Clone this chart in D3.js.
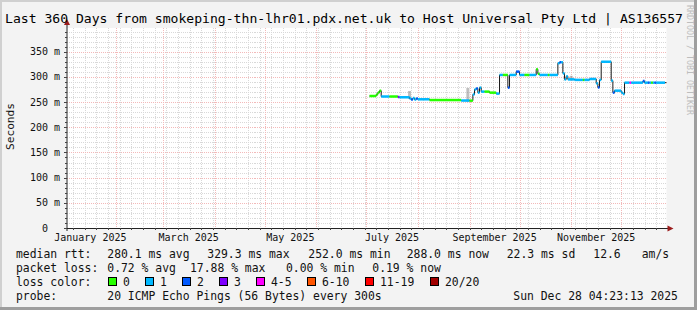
<!DOCTYPE html>
<html>
<head>
<meta charset="utf-8">
<script src="https://cdn.jsdelivr.net/npm/d3@7"></script>
<style>
  html, body { margin: 0; padding: 0; background: #f3f3f3; }
  svg { display: block; font-family: "DejaVu Sans Mono", monospace; }
  text { white-space: pre; }
</style>
</head>
<body>
<svg id="chart" width="697" height="310"></svg>
<script>
// chart values
const title = 'Last 360 Days from smokeping-thn-lhr01.pdx.net.uk to Host Universal Pty Ltd | AS136557';
const yLabel = 'Seconds';
const watermark = 'RRDTOOL / TOBI OETIKER';
const endTime = new Date(2025, 11, 28, 4, 23, 13);
const spanDays = 360;
const yMax = 397;
const yTicks = [0, 50, 100, 150, 200, 250, 300, 350];
const monthLabels = ['January 2025', 'March 2025', 'May 2025', 'July 2025', 'September 2025', 'November 2025'];

const lossColors = ['#26ff00', '#00b8ff', '#0059ff', '#7e00ff', '#ff00ff', '#ff5500', '#ff0000', '#a10000'];
const lossLabels = ['0', '1', '2', '3', '4-5', '6-10', '11-19', '20/20'];

// [day, median rtt (ms), loss class]
const medianSeries = [
  ['2025-07-03', 262, 0], ['2025-07-07', 265, 0], ['2025-07-08', 269, 0], ['2025-07-09', 272.5, 0],
  ['2025-07-10', 261, 1], ['2025-07-15', 261, 0], ['2025-07-20', 260, 3], ['2025-07-21', 259.5, 1],
  ['2025-07-27', 257, 1], ['2025-07-28', 255, 2], ['2025-07-29', 258, 1], ['2025-07-30', 255, 1],
  ['2025-07-31', 257, 2], ['2025-08-01', 255.5, 1], ['2025-08-08', 254, 0], ['2025-08-27', 253, 1],
  ['2025-09-01', 252.8, 0], ['2025-09-03', 265, 1], ['2025-09-04', 275, 1], ['2025-09-05', 277, 2],
  ['2025-09-06', 268.7, 1], ['2025-09-07', 278.6, 1], ['2025-09-08', 270.7, 1], ['2025-09-10', 270.7, 0],
  ['2025-09-13', 268.7, 0], ['2025-09-17', 266.7, 1], ['2025-09-19', 303.8, 1], ['2025-09-21', 303.8, 0],
  ['2025-09-24', 278.6, 2], ['2025-09-25', 303.8, 1], ['2025-09-29', 310.4, 2], ['2025-10-01', 303.8, 1],
  ['2025-10-04', 303.8, 0], ['2025-10-07', 303.8, 1], ['2025-10-11', 315, 0], ['2025-10-12', 306, 0],
  ['2025-10-13', 303.8, 1], ['2025-10-18', 303.8, 0], ['2025-10-19', 303.8, 1], ['2025-10-24', 327, 1],
  ['2025-10-25', 329, 2], ['2025-10-26', 329, 1], ['2025-10-27', 307, 1], ['2025-10-28', 295, 1],
  ['2025-10-29', 301, 1], ['2025-10-30', 295, 1], ['2025-11-03', 294, 1], ['2025-11-08', 294, 0],
  ['2025-11-09', 294, 1], ['2025-11-12', 295.8, 1], ['2025-11-16', 287, 1], ['2025-11-17', 279, 2],
  ['2025-11-18', 294, 1], ['2025-11-19', 330, 1], ['2025-11-25', 292.5, 1], ['2025-11-26', 268.7, 2],
  ['2025-11-27', 272.6, 1], ['2025-12-01', 268.7, 1], ['2025-12-02', 266, 1], ['2025-12-03', 288.5, 1],
  ['2025-12-06', 288.5, 4], ['2025-12-07', 288.5, 1], ['2025-12-14', 291.8, 2], ['2025-12-15', 288.5, 1],
  ['2025-12-17', 288.5, 2], ['2025-12-18', 288.5, 1], ['2025-12-19', 288.5, 0], ['2025-12-20', 288.5, 1],
  ['2025-12-21', 288.5, 2], ['2025-12-22', 288.5, 1]
];

// [day, low, high] of the grey smoke spikes
const smokeSpikes = [
  ['2025-07-27', 256, 272],
  ['2025-08-31', 250, 278],
  ['2025-11-01', 293, 302]
];

const rttStats = ['280.1 ms avg', '329.3 ms max', '252.0 ms min', '288.0 ms now', '22.3 ms sd', '12.6', 'am/s'];
const lossStats = ['0.72 % avg', '17.88 % max', '0.00 % min', '0.19 % now'];
const probeText = '20 ICMP Echo Pings (56 Bytes) every 300s';
const stampText = 'Sun Dec 28 04:23:13 2025';

// layout
const W = 697, H = 310;
const plot = { left: 66.5, right: 666.5, top: 28, bottom: 228 };
const rttX = [107.3, 207.3, 308.3, 406.7, 506.7, 593.3, 641.7];
const lossX = [107.3, 190, 286, 372.3];
const boxX = [108.5, 145.5, 182.5, 219.5, 256.5, 307.5, 365.5, 430.5];

const parseDay = d3.timeParse('%Y-%m-%d');
const series = medianSeries.map(([d, v, l]) => ({ date: parseDay(d), value: v, loss: l }));
const smoke = smokeSpikes.map(([d, lo, hi]) => ({ date: parseDay(d), lo, hi }));

const x = d3.scaleTime()
  .domain([d3.timeDay.offset(endTime, -spanDays), endTime])
  .range([plot.left, plot.right]);
const y = d3.scaleLinear()
  .domain([0, yMax])
  .range([plot.bottom, plot.top]);

const svg = d3.select('#chart');

// background + 3d frame
svg.append('rect').attr('width', W).attr('height', H).attr('fill', '#f3f3f3');
svg.append('rect').attr('x', 0).attr('y', 0).attr('width', W).attr('height', 2).attr('fill', '#d0d0d0');
svg.append('rect').attr('x', 0).attr('y', 0).attr('width', 2).attr('height', H).attr('fill', '#d0d0d0');
svg.append('rect').attr('x', W - 3).attr('y', 0).attr('width', 3).attr('height', H).attr('fill', '#9e9e9e');
svg.append('rect').attr('x', 0).attr('y', H - 3).attr('width', W).attr('height', 3).attr('fill', '#9e9e9e');

// canvas
svg.append('rect')
  .attr('x', plot.left).attr('y', plot.top)
  .attr('width', plot.right - plot.left).attr('height', plot.bottom - plot.top)
  .attr('fill', '#ffffff');

const grid = svg.append('g').attr('shape-rendering', 'crispEdges');
const minorColor = '#d8d8d8';
const majorColor = '#f3b9b9';

// minor grid
grid.selectAll('.vminor')
  .data(d3.timeMonday.range(x.domain()[0], x.domain()[1]))
  .join('line')
  .attr('x1', (d) => Math.round(x(d)) + 0.5).attr('x2', (d) => Math.round(x(d)) + 0.5)
  .attr('y1', plot.top).attr('y2', plot.bottom)
  .attr('stroke', minorColor).attr('stroke-dasharray', '1,1');
grid.selectAll('.hminor')
  .data(d3.range(10, yMax, 10).filter((v) => v % 50 !== 0))
  .join('line')
  .attr('x1', plot.left).attr('x2', plot.right)
  .attr('y1', (d) => Math.round(y(d)) + 0.5).attr('y2', (d) => Math.round(y(d)) + 0.5)
  .attr('stroke', minorColor).attr('stroke-dasharray', '1,1');

// major grid
grid.selectAll('.vmajor')
  .data(d3.timeMonth.range(x.domain()[0], x.domain()[1]))
  .join('line')
  .attr('x1', (d) => Math.round(x(d)) + 0.5).attr('x2', (d) => Math.round(x(d)) + 0.5)
  .attr('y1', plot.top).attr('y2', plot.bottom)
  .attr('stroke', majorColor).attr('stroke-dasharray', '1,1');
grid.selectAll('.hmajor')
  .data(yTicks.filter((v) => v > 0))
  .join('line')
  .attr('x1', plot.left).attr('x2', plot.right)
  .attr('y1', (d) => Math.round(y(d)) + 0.5).attr('y2', (d) => Math.round(y(d)) + 0.5)
  .attr('stroke', majorColor).attr('stroke-dasharray', '1,1');

// smoke
svg.append('g').selectAll('rect')
  .data(smoke)
  .join('rect')
  .attr('x', (d) => x(d.date) - 1.5)
  .attr('width', 3)
  .attr('y', (d) => y(d.hi))
  .attr('height', (d) => y(d.lo) - y(d.hi))
  .attr('fill', '#8a8a8a').attr('opacity', 0.55);

// median step line
const lastPoint = { date: endTime, value: series[series.length - 1].value };
const stepLine = d3.line()
  .x((d) => x(d.date))
  .y((d) => y(d.value))
  .curve(d3.curveStepAfter);
svg.append('path')
  .datum(series.concat([lastPoint]))
  .attr('d', stepLine)
  .attr('fill', 'none')
  .attr('stroke', '#1a1a1a')
  .attr('stroke-width', 1);

// loss coloured median segments
svg.append('g').selectAll('rect')
  .data(series)
  .join('rect')
  .attr('x', (d) => x(d.date))
  .attr('width', (d, i) => (i < series.length - 1 ? x(series[i + 1].date) : x(endTime) - 1.5) - x(d.date))
  .attr('y', (d) => y(d.value) - 1.25)
  .attr('height', 2.5)
  .attr('fill', (d) => lossColors[d.loss]);

// axes
const axisG = svg.append('g');
axisG.append('line')
  .attr('x1', plot.left).attr('x2', plot.right + 2)
  .attr('y1', plot.bottom + 0.5).attr('y2', plot.bottom + 0.5)
  .attr('stroke', '#222');
axisG.append('line')
  .attr('x1', plot.left + 0.5).attr('x2', plot.left + 0.5)
  .attr('y1', plot.bottom + 3).attr('y2', plot.top - 4)
  .attr('stroke', '#222');
axisG.append('path')
  .attr('d', `M${plot.right + 1},${plot.bottom - 2.5}L${plot.right + 7},${plot.bottom + 0.5}L${plot.right + 1},${plot.bottom + 3.5}Z`)
  .attr('fill', '#9b1c1c');
axisG.append('path')
  .attr('d', `M${plot.left - 2.5},${plot.top - 3}L${plot.left + 0.5},${plot.top - 9}L${plot.left + 3.5},${plot.top - 3}Z`)
  .attr('fill', '#9b1c1c');

// tick marks
axisG.selectAll('.ytick')
  .data(d3.range(0, yMax, 10))
  .join('line')
  .attr('x1', (d) => (d % 50 === 0 ? plot.left - 3 : plot.left - 1.5)).attr('x2', plot.left)
  .attr('y1', (d) => Math.round(y(d)) + 0.5).attr('y2', (d) => Math.round(y(d)) + 0.5)
  .attr('stroke', '#444').attr('shape-rendering', 'crispEdges');
axisG.selectAll('.xtick')
  .data(d3.timeMonday.range(x.domain()[0], x.domain()[1]))
  .join('line')
  .attr('x1', (d) => Math.round(x(d)) + 0.5).attr('x2', (d) => Math.round(x(d)) + 0.5)
  .attr('y1', plot.bottom).attr('y2', plot.bottom + 2)
  .attr('stroke', '#444').attr('shape-rendering', 'crispEdges');

// y labels
svg.append('g').selectAll('text')
  .data(yTicks)
  .join('text')
  .attr('x', 60)
  .attr('y', (d) => y(d) + 3.5)
  .attr('text-anchor', 'end')
  .attr('font-size', 10)
  .attr('fill', '#111')
  .text((d) => (d === 0 ? '0  ' : `${d} m`));

// month labels, centred over their month
const labelMonths = monthLabels.map((m) => d3.timeParse('%B %Y')(m));
svg.append('g').selectAll('text')
  .data(monthLabels)
  .join('text')
  .attr('x', (d, i) => (x(labelMonths[i]) + x(d3.timeMonth.offset(labelMonths[i], 1))) / 2)
  .attr('y', 241)
  .attr('text-anchor', 'middle')
  .attr('font-size', 10)
  .attr('fill', '#111')
  .text((d) => d);

// title
svg.append('text')
  .attr('x', 5).attr('y', 23)
  .attr('font-size', 13.1)
  .attr('fill', '#000')
  .text(title);

// vertical labels
svg.append('text')
  .attr('transform', 'translate(14,126.5) rotate(-90)')
  .attr('text-anchor', 'middle')
  .attr('font-size', 11.2)
  .attr('fill', '#111')
  .text(yLabel);
svg.append('text')
  .attr('transform', 'translate(687,60) rotate(90)')
  .attr('text-anchor', 'middle')
  .attr('font-size', 8.3)
  .attr('fill', '#bdbdbd')
  .text(watermark);

// legend
const legend = svg.append('g').attr('font-size', 11.4).attr('fill', '#111');
legend.append('text').attr('x', 16).attr('y', 258).text('median rtt:');
legend.selectAll('.rtt').data(rttStats).join('text')
  .attr('x', (d, i) => rttX[i]).attr('y', 258).text((d) => d);

legend.append('text').attr('x', 16).attr('y', 272).text('packet loss:');
legend.selectAll('.loss').data(lossStats).join('text')
  .attr('x', (d, i) => lossX[i]).attr('y', 272).text((d) => d);

legend.append('text').attr('x', 16).attr('y', 285.5).text('loss color:');
const keys = legend.selectAll('.key').data(lossLabels).join('g');
keys.append('rect')
  .attr('x', (d, i) => boxX[i]).attr('y', 277.5)
  .attr('width', 8).attr('height', 8)
  .attr('fill', (d, i) => lossColors[i])
  .attr('stroke', '#000').attr('stroke-width', 1);
keys.append('text')
  .attr('x', (d, i) => boxX[i] + 14.5).attr('y', 285.5)
  .text((d) => d);

legend.append('text').attr('x', 16).attr('y', 299.5).text('probe:');
legend.append('text').attr('x', 107.3).attr('y', 299.5).text(probeText);
legend.append('text').attr('x', 513.3).attr('y', 299.5).text(stampText);
</script>
</body>
</html>
